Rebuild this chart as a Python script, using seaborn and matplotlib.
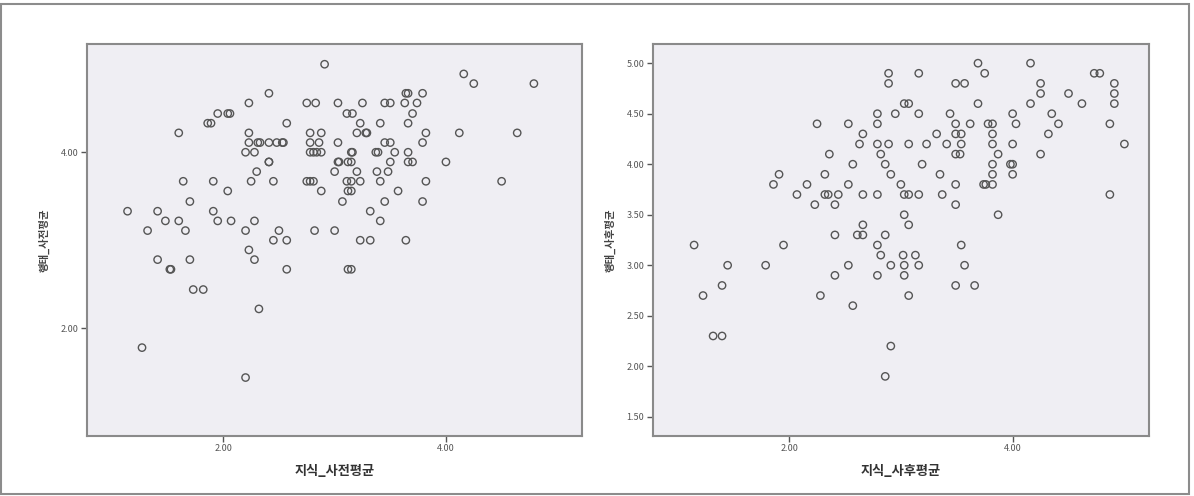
import seaborn as sns
import matplotlib.pyplot as plt
import numpy as np
import pandas as pd
from matplotlib.patches import Rectangle

sns.set_theme(style="white")
plt.rcParams['font.family'] = ['Noto Sans CJK KR', 'DejaVu Sans']

# left panel: 지식_사전평균 vs 행태_사전평균 (one line per y row)
pre_x = [2.91,
         4.16,
         4.25, 4.79,
         2.41, 3.64, 3.66, 3.79,
         2.23, 2.75, 2.83, 3.03, 3.25, 3.45, 3.50, 3.63, 3.74,
         1.95, 2.04, 2.06, 3.11, 3.16, 3.70,
         1.86, 1.89, 2.57, 3.23, 3.41, 3.66,
         1.60, 2.23, 2.78, 2.88, 3.20, 3.28, 3.29, 3.82, 4.12, 4.64,
         2.23, 2.31, 2.33, 2.41, 2.48, 2.53, 2.54, 2.78, 2.86, 3.03, 3.45, 3.50, 3.79,
         2.20, 2.28, 2.78, 2.81, 2.84, 2.88, 3.15, 3.16, 3.37, 3.39, 3.54, 3.66,
         2.41, 2.41, 3.03, 3.04, 3.12, 3.15, 3.50, 3.66, 3.70, 4.00,
         2.30, 3.00, 3.20, 3.38, 3.48,
         1.64, 1.91, 2.25, 2.45, 2.75, 2.78, 2.81, 3.11, 3.15, 3.23, 3.41, 3.82, 4.50,
         2.04, 2.88, 3.12, 3.15, 3.57,
         1.70, 3.07, 3.45, 3.79,
         1.14, 1.41, 1.91, 3.32,
         1.48, 1.60, 1.95, 2.07, 2.28, 3.41,
         1.32, 1.66, 2.20, 2.50, 2.82, 3.00,
         2.45, 2.57, 3.23, 3.32, 3.64,
         2.23,
         1.41, 1.70, 2.28,
         1.52, 1.53, 2.57, 3.12, 3.15,
         1.73, 1.82,
         2.32,
         1.27,
         2.20]
pre_y = ([5.00] * 1 + [4.89] * 1 + [4.78] * 2 + [4.67] * 4 + [4.56] * 9
         + [4.44] * 6 + [4.33] * 6 + [4.22] * 10 + [4.11] * 13 + [4.00] * 12
         + [3.89] * 10 + [3.78] * 5 + [3.67] * 13 + [3.56] * 5 + [3.44] * 4
         + [3.33] * 4 + [3.22] * 6 + [3.11] * 6 + [3.00] * 5 + [2.89] * 1
         + [2.78] * 3 + [2.67] * 5 + [2.44] * 2 + [2.22] * 1 + [1.78] * 1
         + [1.44] * 1)

# right panel: 지식_사후평균 vs 행태_사후평균
post_x = [3.69, 4.16,
          2.89, 3.16, 3.75, 4.73, 4.78,
          2.89, 3.49, 3.57, 4.25, 4.91,
          4.25, 4.50, 4.91,
          3.03, 3.07, 3.69, 4.16, 4.62, 4.91,
          2.79, 2.95, 3.16, 3.44, 4.00, 4.35,
          2.25, 2.53, 2.79, 3.49, 3.62, 3.78, 3.82, 4.03, 4.41, 4.87,
          2.66, 3.32, 3.49, 3.54, 3.82, 4.32,
          2.63, 2.79, 2.89, 3.07, 3.23, 3.41, 3.54, 3.82, 4.00, 5.00,
          2.36, 2.82, 3.49, 3.53, 3.87, 4.25,
          2.57, 2.86, 3.19, 3.82, 3.98, 4.00,
          1.91, 2.32, 2.91, 3.35, 3.82, 4.00,
          1.86, 2.16, 2.53, 3.00, 3.49, 3.74, 3.76, 3.82,
          2.07, 2.32, 2.35, 2.44, 2.66, 2.79, 3.03, 3.07, 3.16, 3.37, 4.87,
          2.23, 2.41, 3.49,
          3.03, 3.87,
          2.66, 3.07,
          2.41, 2.61, 2.66, 2.86,
          1.15, 1.95, 2.79, 3.54,
          2.82, 3.02, 3.13,
          1.45, 1.79, 2.53, 2.91, 3.03, 3.16, 3.57,
          2.41, 2.79, 3.03,
          1.40, 3.49, 3.66,
          1.23, 2.28, 3.07,
          2.57,
          1.32, 1.40,
          2.91,
          2.86]
post_y = ([5.0] * 2 + [4.9] * 5 + [4.8] * 5 + [4.7] * 3 + [4.6] * 6 + [4.5] * 6
          + [4.4] * 10 + [4.3] * 6 + [4.2] * 10 + [4.1] * 6 + [4.0] * 6
          + [3.9] * 6 + [3.8] * 8 + [3.7] * 11 + [3.6] * 3 + [3.5] * 2
          + [3.4] * 2 + [3.3] * 4 + [3.2] * 4 + [3.1] * 3 + [3.0] * 7
          + [2.9] * 3 + [2.8] * 3 + [2.7] * 3 + [2.6] * 1 + [2.3] * 2
          + [2.2] * 1 + [1.9] * 1)

fig = plt.figure(figsize=(11.94, 4.96), dpi=100)
ax1 = fig.add_axes([0.0726, 0.121, 0.4152, 0.7903])
ax2 = fig.add_axes([0.5467, 0.121, 0.4156, 0.7903])

# outer frame around the whole picture
fig.patches.append(Rectangle((0.001, 0.004), 0.995, 0.987, transform=fig.transFigure,
                             fill=False, edgecolor='#8c8c8c', linewidth=1.5))

panels = [
    (ax1, pre_x, pre_y, '지식_사전평균', '행태_사전평균', (0.773, 5.226), (0.776, 5.23), [2, 4]),
    (ax2, post_x, post_y, '지식_사후평균', '행태_사후평균', (0.78, 5.22), (1.31, 5.19),
     [1.5, 2.0, 2.5, 3.0, 3.5, 4.0, 4.5, 5.0]),
]

for ax, xs, ys, xl, yl, xlim, ylim, yt in panels:
    sns.scatterplot(x=xs, y=ys, ax=ax, marker='o', s=28, facecolors='none',
                    edgecolor='#555555', linewidth=1.0)
    ax.set_facecolor('#efeef3')
    ax.set_xlim(*xlim)
    ax.set_ylim(*ylim)
    ax.set_xticks([2, 4])
    ax.set_xticklabels(['2.00', '4.00'])
    ax.set_yticks(yt)
    ax.set_yticklabels([f'{v:.2f}' for v in yt])
    ax.tick_params(axis='both', direction='out', length=4, width=1, color='#555555',
                   labelsize=6.5, labelcolor='#555555', pad=2, left=True, bottom=True)
    for sp in ax.spines.values():
        sp.set_color('#8a8a8a')
        sp.set_linewidth(1.5)
    ax.set_xlabel(xl, fontsize=9.5, fontweight='bold', color='#333333', labelpad=8)
    ax.set_ylabel(yl, fontsize=7.5, fontweight='bold', color='#444444', labelpad=8)

plt.savefig('out.png', dpi=100)
